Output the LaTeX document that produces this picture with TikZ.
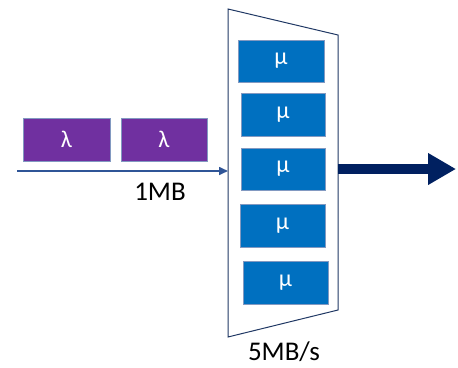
\documentclass[tikz,border=0pt]{standalone}
\usepackage{fontspec}
\setmainfont{Carlito}
\usetikzlibrary{arrows.meta}
\definecolor{lampurple}{HTML}{7030A0}
\definecolor{mublue}{HTML}{0070C0}
\definecolor{navy}{HTML}{002060}
\definecolor{inarrow}{HTML}{2F5597}
\definecolor{trapline}{HTML}{203864}
\begin{document}
\begin{tikzpicture}[x=1pt,y=-1pt,
  lambox/.style={draw=inarrow!60!white, line width=0.8pt, fill=lampurple, text=white, font=\fontsize{24}{26}\selectfont, inner sep=0pt},
  mubox/.style={draw=inarrow!60!white, line width=0.6pt, fill=mublue, text=white, font=\fontsize{24}{26}\selectfont, inner sep=0pt},
  lbl/.style={font=\fontsize{27}{30}\selectfont, text=black, inner sep=0pt}]
\useasboundingbox (0,0) rectangle (458,367);
% trapezoid
\draw[trapline, line width=1pt] (228,9) coordinate (t1) -- (338,35) coordinate (t2) -- (338,310) coordinate (t3) -- (228,337) coordinate (t4) -- cycle;
% mu boxes
\node[mubox, minimum width=86pt, minimum height=42pt] (m1) at (281,61) {μ};
\node[mubox, minimum width=84pt, minimum height=43pt] (m2) at (283,114.5) {μ};
\node[mubox, minimum width=84pt, minimum height=42pt] (m3) at (283,169) {μ};
\node[mubox, minimum width=85pt, minimum height=43pt] (m4) at (282.5,225.5) {μ};
\node[mubox, minimum width=85pt, minimum height=43pt] (m5) at (285.5,283) {μ};
% lambda boxes
\node[lambox, minimum width=87pt, minimum height=43pt] (l1) at (66.5,139.5) {λ};
\node[lambox, minimum width=86pt, minimum height=43pt] (l2) at (164,139.5) {λ};
% input arrow
\coordinate (inS) at (17,171);
\coordinate (inE) at (228,171);
\draw[inarrow, line width=1.6pt, -{Triangle[length=9pt,width=8pt]}] (inS) -- (inE);
\node[lbl] (mb) at (160,192) {1MB};
% output arrow
\coordinate (oS) at (338,169);
\coordinate (oE) at (456,169);
\draw[navy, line width=10pt, -{Triangle[length=28pt,width=30pt]}] (oS) -- (oE);
\node[lbl] (rate) at (284,352) {5MB/s};
\end{tikzpicture}
\end{document}
